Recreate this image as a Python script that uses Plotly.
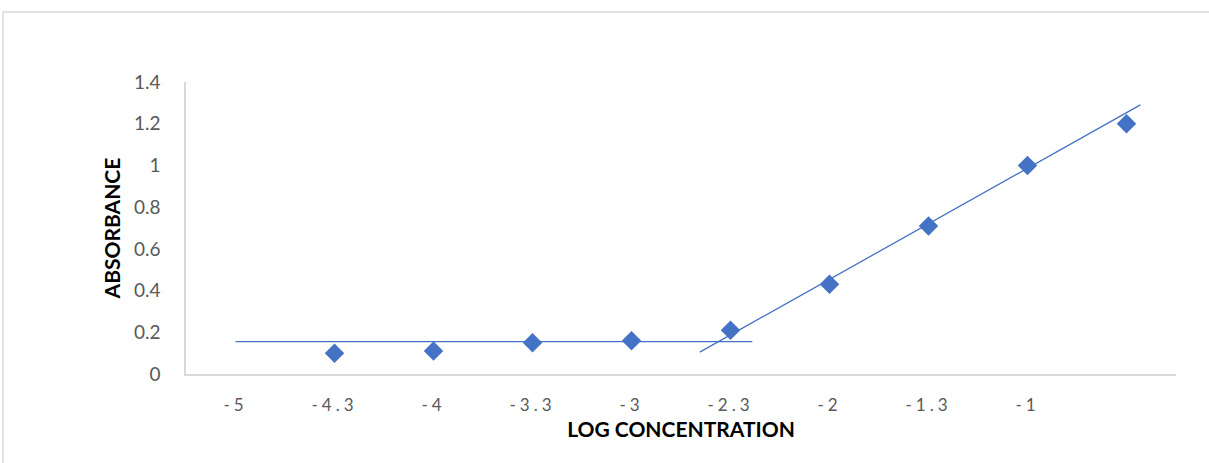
import plotly.graph_objects as go

# Category axis (evenly spaced, as in the original)
categories = ["-5", "-4.3", "-4", "-3.3", "-3", "-2.3", "-2", "-1.3", "-1", ""]
# Measured absorbance at each category (no point at -5)
point_cats = ["-4.3", "-4", "-3.3", "-3", "-2.3", "-2", "-1.3", "-1", ""]
absorbance = [0.10, 0.11, 0.15, 0.16, 0.21, 0.43, 0.71, 1.00, 1.20]

# Hand-drawn fit lines (category index, absorbance)
flat_x = [0.0, 5.22]
flat_y = [0.155, 0.155]
slope_x = [4.69, 9.14]
slope_y = [0.105, 1.29]

ytick_vals = [0, 0.2, 0.4, 0.6, 0.8, 1, 1.2, 1.4]
ytick_text = ["0", "0.2", "0.4", "0.6", "0.8", "1", "1.2", "1.4"]

BLUE = "#4472C4"
GRAY = "#595959"
FONT = "Lato"

cat_index = {c: i for i, c in enumerate(categories)}
px = [cat_index[c] for c in point_cats]

fig = go.Figure()
fig.add_trace(go.Scatter(x=flat_x, y=flat_y, mode="lines",
                         line=dict(color=BLUE, width=1.3), hoverinfo="skip"))
fig.add_trace(go.Scatter(x=slope_x, y=slope_y, mode="lines",
                         line=dict(color=BLUE, width=1.3), hoverinfo="skip"))
fig.add_trace(go.Scatter(x=px, y=absorbance, mode="markers",
                         marker=dict(symbol="diamond", size=15, color=BLUE,
                                     line=dict(width=0))))

W, H = 1209, 463
L, R, T, B = 186, 33, 82, 89
pw, ph = W - L - R, H - T - B

fig.update_layout(
    width=W, height=H,
    margin=dict(l=L, r=R, t=T, b=B, autoexpand=False),
    paper_bgcolor="white", plot_bgcolor="white",
    showlegend=False,
    font=dict(family=FONT, color=GRAY, size=17),
    xaxis=dict(
        range=[-0.5, 9.5],
        tickmode="array",
        tickvals=list(range(len(categories))),
        ticktext=categories,
        showgrid=False, zeroline=False, automargin=False,
        showline=True, linecolor="#d9d9d9", linewidth=1.5,
        ticks="", ticklabelstandoff=15,
        tickfont=dict(family=FONT, size=17, color=GRAY),
        title=dict(text="<b>LOG CONCENTRATION</b>",
                   font=dict(family=FONT, size=21, color="black"),
                   standoff=8),
    ),
    yaxis=dict(
        range=[0, 1.4],
        tickmode="array",
        tickvals=ytick_vals,
        ticktext=ytick_text,
        showgrid=False, zeroline=False, automargin=False,
        showline=True, linecolor="#d9d9d9", linewidth=1.5,
        ticks="", ticklabelstandoff=20,
        tickfont=dict(family=FONT, size=19, color=GRAY),
        title=dict(text="<b>ABSORBANCE</b>",
                   font=dict(family=FONT, size=21, color="black"),
                   standoff=8),
    ),
)

# Outer chart border (extends past the right and bottom edges as in the source)
fig.add_shape(type="rect", xref="paper", yref="paper",
              x0=(3 - L) / pw, x1=(1215 - L) / pw,
              y0=-(475 - (T + ph)) / ph, y1=(T + ph - 12) / ph,
              line=dict(color="#d9d9d9", width=1.5), fillcolor="rgba(0,0,0,0)",
              layer="below")

post = (
    "document.body.style.margin='0px';"
    "document.body.style.overflow='hidden';"
    "var s=document.createElement('style');"
    "s.textContent='.xtick text{letter-spacing:4px;}';"
    "document.head.appendChild(s);"
)
fig.write_html("out.html", post_script=post, config={"displayModeBar": False})
